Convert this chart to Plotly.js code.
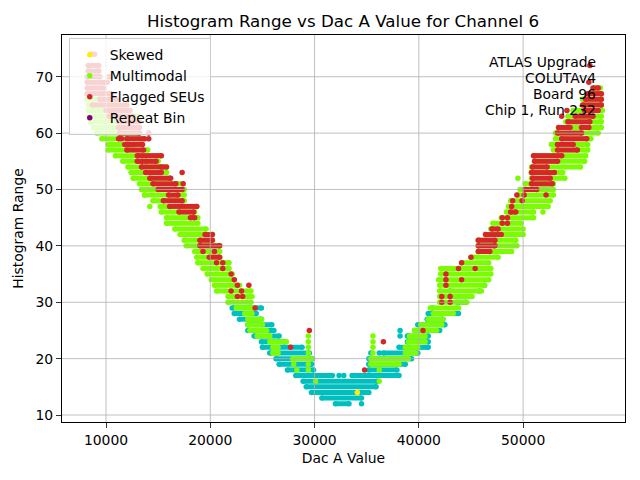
<!DOCTYPE html>
<html>
<head>
<meta charset="utf-8">
<script src="https://cdn.plot.ly/plotly-3.0.1.min.js"></script>
<style>
  html, body { margin: 0; padding: 0; background: #fff; }
  #chart { width: 640px; height: 480px; }
</style>
</head>
<body>
<div id="chart"></div>
<script>
// Histogram range per DAC A code, channel 6.
// Each row of codes sharing a histogram range is stored as a run [x0, x1].

const xTicks = [10000, 20000, 30000, 40000, 50000];
const yTicks = [10, 20, 30, 40, 50, 60, 70];

// normal points (cyan)
const cyanY  = [29, 28, 27, 26, 25, 24, 23, 22, 21, 20, 19, 18, 17, 17, 16, 15, 14, 13, 12,
                18, 19, 20, 21, 22, 23, 24, 25, 26, 27, 28, 30];
const cyanX0 = [22100, 22300, 22800, 23600, 23600, 24200, 24900, 25000, 25700, 26300, 26600, 27400, 28200, 33600, 28900, 29200, 29700, 30700, 32000,
                35200, 35200, 35200, 36600, 38100, 38900, 38900, 39600, 39900, 40800, 40900, 43700];
const cyanX1 = [24900, 24400, 24900, 25900, 26100, 26600, 27100, 28800, 29500, 29800, 29700, 29900, 31700, 38100, 36000, 35900, 35200, 34500, 33300,
                37900, 38700, 39300, 39900, 40900, 40900, 40900, 42000, 42500, 42300, 43800, 44500];
const cyanPtX = [32350, 32800, 34500, 35400, 36200, 38200, 38200, 41300, 43000, 45800, 46300];
const cyanPtY = [17, 17, 12, 21, 21, 24, 25, 29, 32, 32, 33];

// multimodal (green)
const greenY  = [67, 66, 65, 64, 63, 62, 61, 60, 59, 58, 57, 56, 55, 54, 53, 52, 51, 50, 49, 48,
                 47, 46, 45, 44, 43, 42, 41, 40, 39, 38, 37, 36, 35, 34, 33, 32, 31, 30, 29, 28,
                 27, 26, 25, 24, 23, 22, 21, 20,
                 19, 20, 21, 22, 23, 24, 25, 26, 27, 28, 29, 30, 31, 32, 33, 34, 35, 36, 37, 38,
                 39, 40, 41, 42, 43, 44, 45, 46, 47, 48, 49, 50, 51, 52, 53, 54, 55, 56, 57, 58,
                 59, 60, 61, 62, 63, 64, 65, 66, 67, 68];
const greenX0 = [8200, 8200, 8300, 8300, 8300, 8500, 8800, 9100, 9600, 10200, 10200, 10900, 11600, 12100, 12400, 12600, 13200, 13400, 13700, 14500,
                 15200, 15300, 15800, 15800, 16600, 17100, 17500, 17700, 18500, 18700, 18800, 19300, 19700, 20100, 20400, 20600, 21700, 21700, 22500, 23300,
                 23600, 23600, 23800, 24500, 25700, 26000, 26000, 27900,
                 35400, 35400, 38700, 38700, 39000, 39100, 39600, 40200, 40900, 41400, 41100, 42000, 42000, 42000, 42000, 41900, 42100, 42100, 44100, 45000,
                 45700, 45700, 45700, 46400, 46900, 47100, 47900, 48400, 48600, 48800, 49500, 49700, 50200, 50800, 50800, 50800, 51100, 51000, 52900, 52700,
                 53100, 53100, 53400, 54100, 54300, 54800, 55900, 55700, 56200, 56800];
const greenX1 = [10500, 11000, 11300, 12100, 13100, 12600, 13200, 13200, 13400, 13400, 14000, 15300, 15000, 15800, 15800, 16100, 17200, 17500, 17500, 17500,
                 18700, 18500, 18800, 18800, 19600, 20200, 20200, 20900, 20900, 20900, 21800, 21800, 22100, 22300, 22800, 23900, 24000, 23900, 24000, 24000,
                 24900, 25000, 25400, 25700, 27300, 26500, 26500, 29700,
                 38100, 39000, 39700, 39900, 40600, 40600, 41700, 42200, 42300, 43300, 43800, 44600, 45100, 46000, 46300, 46700, 46900, 46900, 46700, 47600,
                 48900, 49100, 49300, 50000, 50000, 49800, 51000, 51000, 52400, 52600, 52900, 52900, 52900, 54000, 53800, 55500, 55900, 56000, 56200, 56200,
                 56500, 57200, 57500, 57500, 57500, 57600, 57500, 57500, 57500, 57400];
const greenPtX = [29400, 29400, 29400, 29400, 29400, 29400, 29400,
                  35600, 35600, 35600, 35600, 35600, 35600,
                  14200, 13700, 28000, 28300, 30100, 36200, 36200, 49400, 49500, 51900];
const greenPtY = [18, 19, 20, 21, 22, 23, 24,
                  19, 20, 21, 22, 23, 24,
                  47, 49, 19, 18, 16, 18, 16, 40, 52, 46];

// flagged SEUs (red)
const redY  = [74, 72, 71, 70, 69, 68, 67, 66, 65, 64, 63, 62, 61, 60, 59, 59, 58, 58, 57, 56,
               55, 55, 54, 53, 52, 51, 50, 49, 48, 47, 46, 45, 42, 41, 40, 38,
               39, 40, 41, 42, 43, 46, 50, 51, 52, 53, 54, 55, 56, 57, 58, 59, 60, 61, 61, 62, 63,
               64, 65, 66, 67, 68];
const redX0 = [8500, 8300, 8300, 8200, 8200, 8200, 8200, 9400, 8700, 10000, 10300, 11200, 11200, 11300, 11200, 12000, 11800, 12600, 12000, 13000,
               13000, 13800, 13400, 13800, 14200, 14500, 15000, 16000, 15500, 16100, 17000, 18100, 19500, 19000, 19000, 19900,
               45700, 45700, 45700, 46400, 47000, 48800, 50200, 50800, 50900, 50800, 50900, 51100, 51000, 53300, 53300, 53700, 53300, 53400, 55600, 54300, 55000,
               55900, 55700, 56000, 56200, 56700];
const redX1 = [8900, 9300, 9300, 9400, 10100, 9800, 10500, 11000, 12000, 12300, 12600, 13200, 13200, 13200, 11500, 13700, 12300, 13500, 13600, 15300,
               13500, 14800, 15300, 15300, 16200, 16700, 17300, 16900, 17300, 18700, 18400, 18500, 20200, 20200, 20900, 20900,
               46800, 47300, 47300, 47900, 47600, 49300, 51300, 52800, 52600, 53000, 52300, 53300, 53700, 55200, 54800, 56100, 55600, 54500, 56300, 56400, 56700,
               57200, 57500, 57500, 57500, 57200];
const redPtX = [10300, 14100, 14100, 19300, 20400, 20600, 21200, 21200, 22000, 22300, 22600, 23700, 22000, 23000, 22600, 23100, 24300, 27700,
                29500, 34800, 36600, 40400, 17400, 17300, 15500, 15800,
                42200, 43000, 42200, 43000, 42600, 42600, 44100, 42600, 43800, 45400, 44100, 45000, 48000, 48500, 48000, 48500,
                48900, 49000, 49900, 49400, 50100, 52200, 53700, 54200, 56300, 56400];
const redPtY = [70, 59, 60, 39, 39, 37, 37, 36, 35, 34, 33, 33, 32, 32, 31, 31, 29, 22,
                25, 18, 23, 25, 51, 53, 54, 54,
                30, 30, 31, 31, 33, 34, 34, 35, 36, 36, 37, 38, 44, 44, 45, 45,
                47, 48, 48, 49, 49, 49, 63, 64, 69, 72];

// skewed (yellow); no repeat bins were seen, one empty slot keeps the legend entry
const skewedX = [34100];
const skewedY = [14];
const repeatX = [null];
const repeatY = [null];

const infoLines = ['ATLAS Upgrade', 'COLUTAv4', 'Board 96', 'Chip 1, Run 232'];

const CYAN = '#00bfbf', GREEN = '#7cfc00', RED = '#d62728', YELLOW = '#ffee00', PURPLE = '#800080';
const DOT = 5.5;

// runs -> one line trace, segments split by nulls
function runTrace(ys, x0s, x1s, color) {
    const x = [], y = [];
    ys.forEach((v, i) => {
        x.push(x0s[i], x1s[i], null);
        y.push(v, v, null);
    });
    return {
        x: x, y: y, type: 'scatter', mode: 'lines+markers',
        line: { color: color, width: 5 },
        marker: { color: color, size: DOT },
        hoverinfo: 'skip', showlegend: false
    };
}

function dotTrace(xs, ys, color, name, rank) {
    return {
        x: xs, y: ys, type: 'scatter', mode: 'markers',
        marker: { color: color, size: DOT },
        name: name || '', showlegend: !!name, legendrank: rank || 1000
    };
}

const traces = [
    runTrace(cyanY, cyanX0, cyanX1, CYAN),
    dotTrace(cyanPtX, cyanPtY, CYAN),
    runTrace(greenY, greenX0, greenX1, GREEN),
    dotTrace(greenPtX, greenPtY, GREEN, 'Multimodal', 2),
    runTrace(redY, redX0, redX1, RED),
    dotTrace(redPtX, redPtY, RED, 'Flagged SEUs', 3),
    dotTrace(skewedX, skewedY, YELLOW, 'Skewed', 1),
    dotTrace(repeatX, repeatY, PURPLE, 'Repeat Bin', 4)
];

// grid on top of the points, like matplotlib
const shapes = [];
xTicks.forEach(t => shapes.push({
    type: 'line', xref: 'x', yref: 'paper', x0: t, x1: t, y0: 0, y1: 1,
    line: { color: '#b0b0b0', width: 0.8 }, layer: 'above'
}));
yTicks.forEach(t => shapes.push({
    type: 'line', xref: 'paper', yref: 'y', x0: 0, x1: 1, y0: t, y1: t,
    line: { color: '#b0b0b0', width: 0.8 }, layer: 'above'
}));

const annotations = infoLines.map((txt, i) => ({
    xref: 'paper', yref: 'paper', x: 0.952, y: 0.931 - i * 0.0413,
    xanchor: 'right', yanchor: 'middle', showarrow: false,
    text: txt, font: { size: 13.9, color: '#000' }
}));

const axisBase = {
    showgrid: false, zeroline: false, showline: true, mirror: true,
    linecolor: '#000', linewidth: 1,
    ticks: 'outside', ticklen: 5, tickwidth: 0.8, tickcolor: '#000',
    tickfont: { size: 13.9, color: '#000' }
};

const layout = {
    width: 640, height: 480,
    margin: { l: 62, r: 15, t: 35, b: 58 },
    paper_bgcolor: '#fff', plot_bgcolor: '#fff',
    font: { family: 'DejaVu Sans', color: '#000' },
    title: {
        text: 'Histogram Range vs Dac A Value for Channel 6',
        font: { size: 16.7 }, x: 0.536, xanchor: 'center', y: 0.956, yanchor: 'middle'
    },
    xaxis: Object.assign({}, axisBase, {
        range: [5780, 59770], tickvals: xTicks, ticktext: xTicks.map(String),
        title: { text: 'Dac A Value', font: { size: 13.9 }, standoff: 6 }
    }),
    yaxis: Object.assign({}, axisBase, {
        range: [8.76, 77.4], tickvals: yTicks, ticktext: yTicks.map(String),
        title: { text: 'Histogram Range', font: { size: 13.9 }, standoff: 8 }
    }),
    showlegend: true,
    legend: {
        x: 0.012, y: 0.992, xanchor: 'left', yanchor: 'top',
        bgcolor: 'rgba(255,255,255,0.8)', bordercolor: '#cccccc', borderwidth: 1,
        font: { size: 13.9 }, traceorder: 'normal'
    },
    shapes: shapes,
    annotations: annotations
};

Plotly.newPlot('chart', traces, layout, { displayModeBar: false, staticPlot: true });
</script>
</body>
</html>
